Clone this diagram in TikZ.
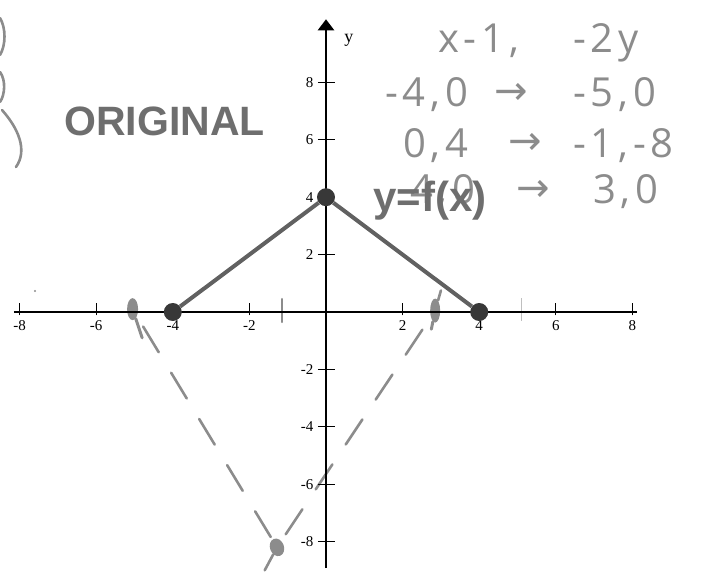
\documentclass[tikz,border=0pt]{standalone}
\usepackage{fontspec}
\setmainfont{Liberation Serif}
\newfontfamily\boldsans{Liberation Sans}
\newfontfamily\hand[LetterSpace=12]{Open Sans}
\newfontfamily\arrowfont{DejaVu Sans}
\usetikzlibrary{arrows.meta,shapes.geometric}
\definecolor{pencil}{HTML}{8C8C8C}
\definecolor{halftone}{HTML}{6E6E6E}
\begin{document}
\begin{tikzpicture}[x=1pt,y=1pt,
  axisline/.style={line width=2.4pt, black},
  tickmark/.style={line width=1.1pt, black},
  ticklabel/.style={font=\fontsize{15}{15}\selectfont, inner sep=1pt},
  graphline/.style={line width=4pt, draw=black!62},
  vertex/.style={circle, fill=black!78, minimum size=18pt, inner sep=0pt},
  handline/.style={draw=pencil, line width=2.6pt, line cap=round},
  handdash/.style={handline, dash pattern=on 30pt off 24pt},
  handdot/.style={ellipse, fill=pencil, inner sep=0pt},
  handtext/.style={font=\hand\fontsize{40}{40}\selectfont, text=pencil, inner sep=0pt, anchor=base west},
  handarrow/.style={font=\arrowfont\fontsize{40}{40}\selectfont, text=pencil, inner sep=0pt, anchor=base west},
  title/.style={font=\boldsans\bfseries\fontsize{41}{41}\selectfont, text=halftone, inner sep=0pt}
]
\useasboundingbox (0,0) rectangle (714,574);

% ---------- handwritten marks (behind) ----------
\draw[handline] (0,556) .. controls (6,546) and (6,529) .. (0,519);
\draw[handline] (0,502) .. controls (6,494) and (5,479) .. (0,472);
\draw[handline] (2,464) .. controls (18,446) and (28,424) .. (16,407);
\fill[pencil] (35,283) circle (1.2pt);

% ---------- graph ----------
\begin{scope}[shift={(326,262)}, x=38.3pt, y=28.7pt]
  \coordinate (xl) at (-8.15,0);
  \coordinate (xr) at (8.12,0);
  \coordinate (yb) at (0,-8.92);
  \coordinate (yt) at (0,10.2);

  % handwritten image points
  \node[handdot, minimum width=11pt, minimum height=22pt] (hA) at (-5.05,0.1) {};
  \node[handdot, minimum width=10pt, minimum height=24pt] (hC) at (2.85,0.05) {};
  \node[handdot, minimum width=14pt, minimum height=18pt, rotate=20] (hB) at (-1.28,-8.2) {};
  \coordinate (hAtail) at (-4.8,-0.9);
  \coordinate (hCtail) at (2.75,-0.6);
  \coordinate (hBtail) at (-1.6,-9.0);
  \coordinate (hCext) at (3.0,0.75);
  \draw[handline, line width=3pt] (hA) -- (hAtail);
  \draw[handline, line width=3pt] (hC) -- (hCtail);
  \draw[handline] (hB) -- (hBtail);
  \draw[handdash, dash phase=-12pt] (hA) -- (hB);
  \draw[handdash, dash phase=-8pt] (hB) -- (hC);
  \draw[handline] (hC) -- (hCext);
  % small pencil marks on the x-axis
  \coordinate (m1a) at (-1.15,-0.35); \coordinate (m1b) at (-1.15,0.45);
  \draw[pencil, line width=2.4pt, line cap=round] (m1a) -- (m1b);
  \coordinate (m2a) at (5.1,-0.3); \coordinate (m2b) at (5.1,0.5);
  \draw[black!25, line width=1.2pt] (m2a) -- (m2b);

  % axes
  \draw[axisline] (xl) -- (xr);
  \draw[axisline, -{Triangle[width=16pt,length=11pt]}] (yb) -- (yt);
  \node[ticklabel, font=\fontsize{18}{18}\selectfont, anchor=west] (ylab) at (0.45,9.45) {y};

  \foreach \v in {-8,-6,-4,-2,2,4,6,8} {
    \draw[tickmark] (\v,-0.12) -- (\v,0.3);
    \node[ticklabel, anchor=north] (xt\v) at (\v,-0.25) {\v};
    \draw[tickmark] (-0.21,\v) -- (0.24,\v);
    \node[ticklabel, anchor=east] (yt\v) at (-0.3,\v) {\v};
  }

  % original function
  \node[vertex] (P1) at (-4,0) {};
  \node[vertex] (P2) at (0,4) {};
  \node[vertex] (P3) at (4,0) {};
  \draw[graphline] (P1) -- (P2) -- (P3);
\end{scope}

% ---------- labels ----------
\node[title] (orig) at (164.5,453) {ORIGINAL};

% handwritten table
\node[handtext] (h1a) at (438,521) {x-1,};
\node[handtext] (h1b) at (573,521) {-2y};
\node[handtext] (h2a) at (385,467) {-4,0};
\node[handarrow] (h2m) at (494,469) {→};
\node[handtext] (h2b) at (573,467) {-5,0};
\node[handtext] (h3a) at (403,417) {0,4};
\node[handarrow] (h3m) at (508,419) {→};
\node[handtext] (h3b) at (573,417) {-1,-8};
\node[handtext] (h4a) at (410,371) {4,0};
\node[handarrow] (h4m) at (516,373) {→};
\node[handtext] (h4b) at (593,371) {3,0};

\node[font=\boldsans\bfseries\fontsize{42}{42}\selectfont, text=halftone, inner sep=0pt] (fx) at (430,373) {y=f(x)};
\end{tikzpicture}
\end{document}
